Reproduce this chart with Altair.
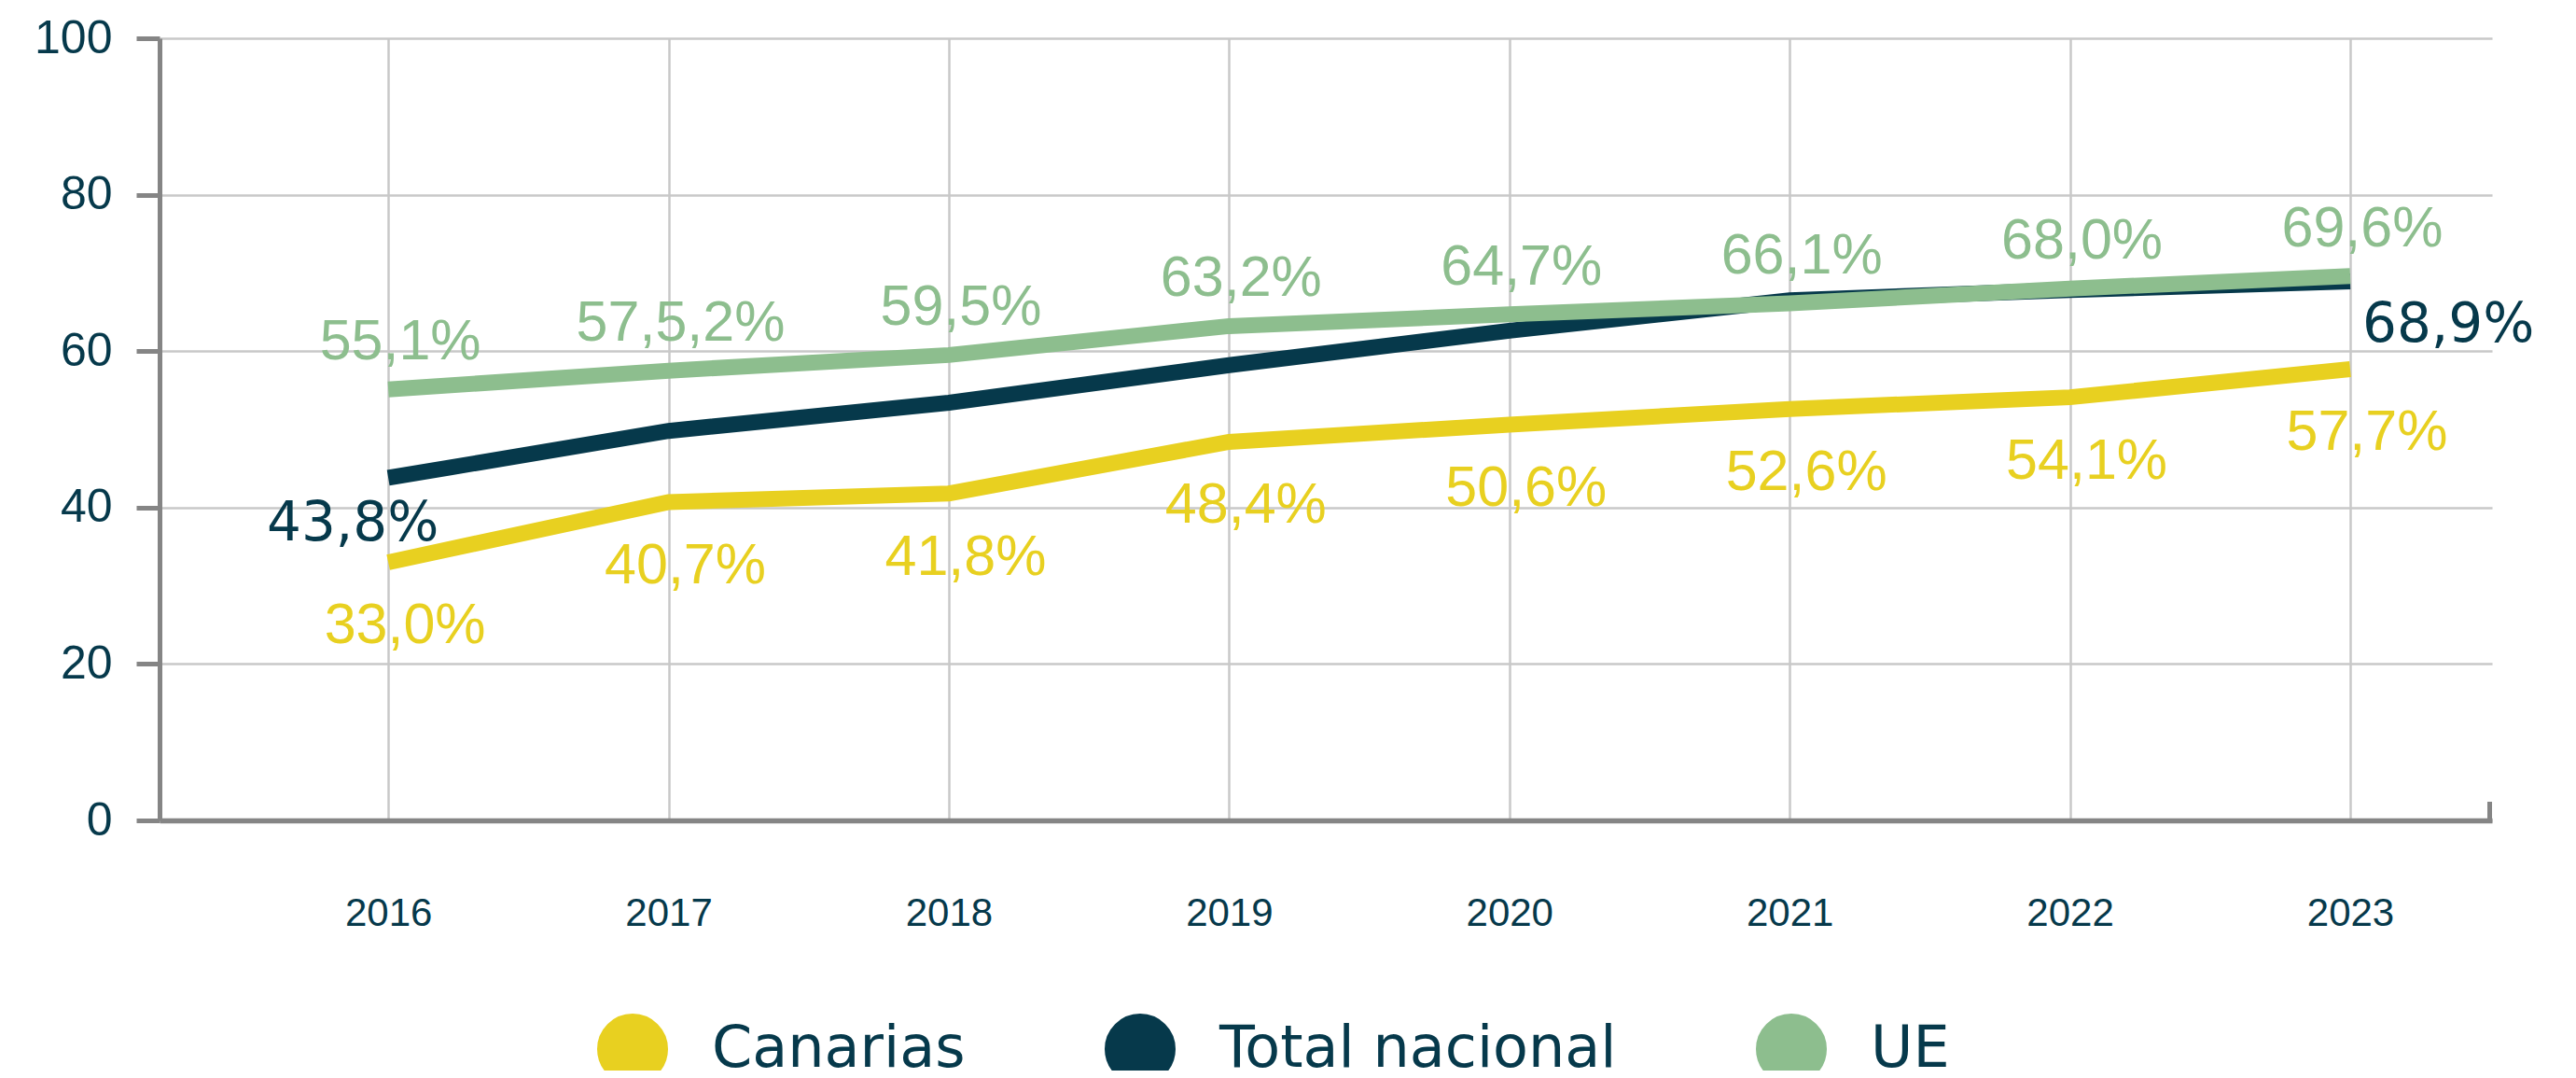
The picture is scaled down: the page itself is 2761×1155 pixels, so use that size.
import altair as alt
import pandas as pd

years = [2016, 2017, 2018, 2019, 2020, 2021, 2022, 2023]
canarias = [33.0, 40.7, 41.8, 48.4, 50.6, 52.6, 54.1, 57.7]
total_nacional = [43.8, 49.8, 53.4, 58.2, 62.6, 66.5, 67.8, 68.9]
ue = [55.1, 57.5, 59.5, 63.2, 64.7, 66.1, 68.0, 69.6]

canarias_labels = ["33,0%", "40,7%", "41,8%", "48,4%", "50,6%", "52,6%", "54,1%", "57,7%"]
total_labels = ["43,8%", "", "", "", "", "", "", "68,9%"]
ue_labels = ["55,1%", "57,5,2%", "59,5%", "63,2%", "64,7%", "66,1%", "68,0%", "69,6%"]

series = ["Canarias", "Total nacional", "UE"]
colors = ["#E8D020", "#06394B", "#8DBE8E"]
y_ticks = [0, 20, 40, 60, 80, 100]

rows = []
for name, vals, labs in [("Canarias", canarias, canarias_labels),
                         ("Total nacional", total_nacional, total_labels),
                         ("UE", ue, ue_labels)]:
    for yr, v, lab in zip(years, vals, labs):
        rows.append({"year": yr, "value": v, "serie": name, "label": lab})
df = pd.DataFrame(rows)

W, H = 2500, 838
AXIS_GREY = "#858585"
GRID = "#C8C8C8"
DARK = "#06394B"

x_enc = alt.X(
    "year:Q",
    scale=alt.Scale(domain=[2015.184, 2023.506], nice=False, zero=False),
    axis=alt.Axis(values=years, format="d", title=None, tickSize=0, labelPadding=79,
                  labelFontSize=42, labelFont="Liberation Sans", labelColor=DARK,
                  domainColor=AXIS_GREY, domainWidth=5.5, gridColor=GRID, gridWidth=2.5,
                  labelFlush=False),
)
y_enc = alt.Y(
    "value:Q",
    scale=alt.Scale(domain=[0, 100], nice=False),
    axis=alt.Axis(values=y_ticks, title=None, tickSize=25, tickWidth=5, tickColor=AXIS_GREY,
                  domainColor=AXIS_GREY, domainWidth=5, labelFontSize=50,
                  labelFont="Liberation Sans", labelColor=DARK, labelPadding=26,
                  gridColor=GRID, gridWidth=2.5),
)
legend = alt.Legend(title=None, orient="none", legendX=469, legendY=1045, direction="horizontal",
                    symbolType="circle", symbolSize=1444, symbolStrokeWidth=38,
                    labelFont="DejaVu Sans", labelFontSize=62, labelColor=DARK,
                    labelOffset=47, columnPadding=92, padding=0, labelLimit=2000)
color_enc = alt.Color("serie:N", scale=alt.Scale(domain=series, range=colors), legend=legend)

base = alt.Chart(df)


def line_layer(name):
    return base.transform_filter(alt.datum.serie == name).mark_line().encode(
        x=x_enc, y=y_enc, color=color_enc, strokeWidth=alt.value(17)
    )


def text_layer(name, color, font, size, dx, dy, align="center", year=None):
    cond = alt.datum.serie == name
    ch = base.transform_filter(cond)
    if year is not None:
        ch = ch.transform_filter(alt.datum.year == year)
    return ch.mark_text(font=font, fontSize=size, dx=dx, dy=dy, align=align,
                        baseline="middle", color=color).encode(x=x_enc, y=y_enc, text="label:N")


end_tick = alt.Chart(df).mark_rule(color=AXIS_GREY, strokeWidth=5).encode(
    x=alt.value(W - 2.5), y=alt.value(H), y2=alt.value(H - 20)
)

chart = alt.layer(
    line_layer("Canarias"),
    line_layer("Total nacional"),
    line_layer("UE"),
    text_layer("UE", colors[2], "Liberation Sans", 61, 13, -50),
    text_layer("Canarias", colors[0], "Liberation Sans", 61, 18, 69),
    text_layer("Total nacional", DARK, "DejaVu Sans", 58, -38, 50, year=2016),
    text_layer("Total nacional", DARK, "DejaVu Sans", 58, 13, 47, align="left", year=2023),
    end_tick,
).properties(
    width=W, height=H,
    autosize=alt.AutoSizeParams(type="none"),
    padding={"left": 163, "top": 33, "right": 82, "bottom": 268},
).configure_view(stroke=None)

chart.save("out.html", embed_options={"renderer": "svg", "actions": False})
